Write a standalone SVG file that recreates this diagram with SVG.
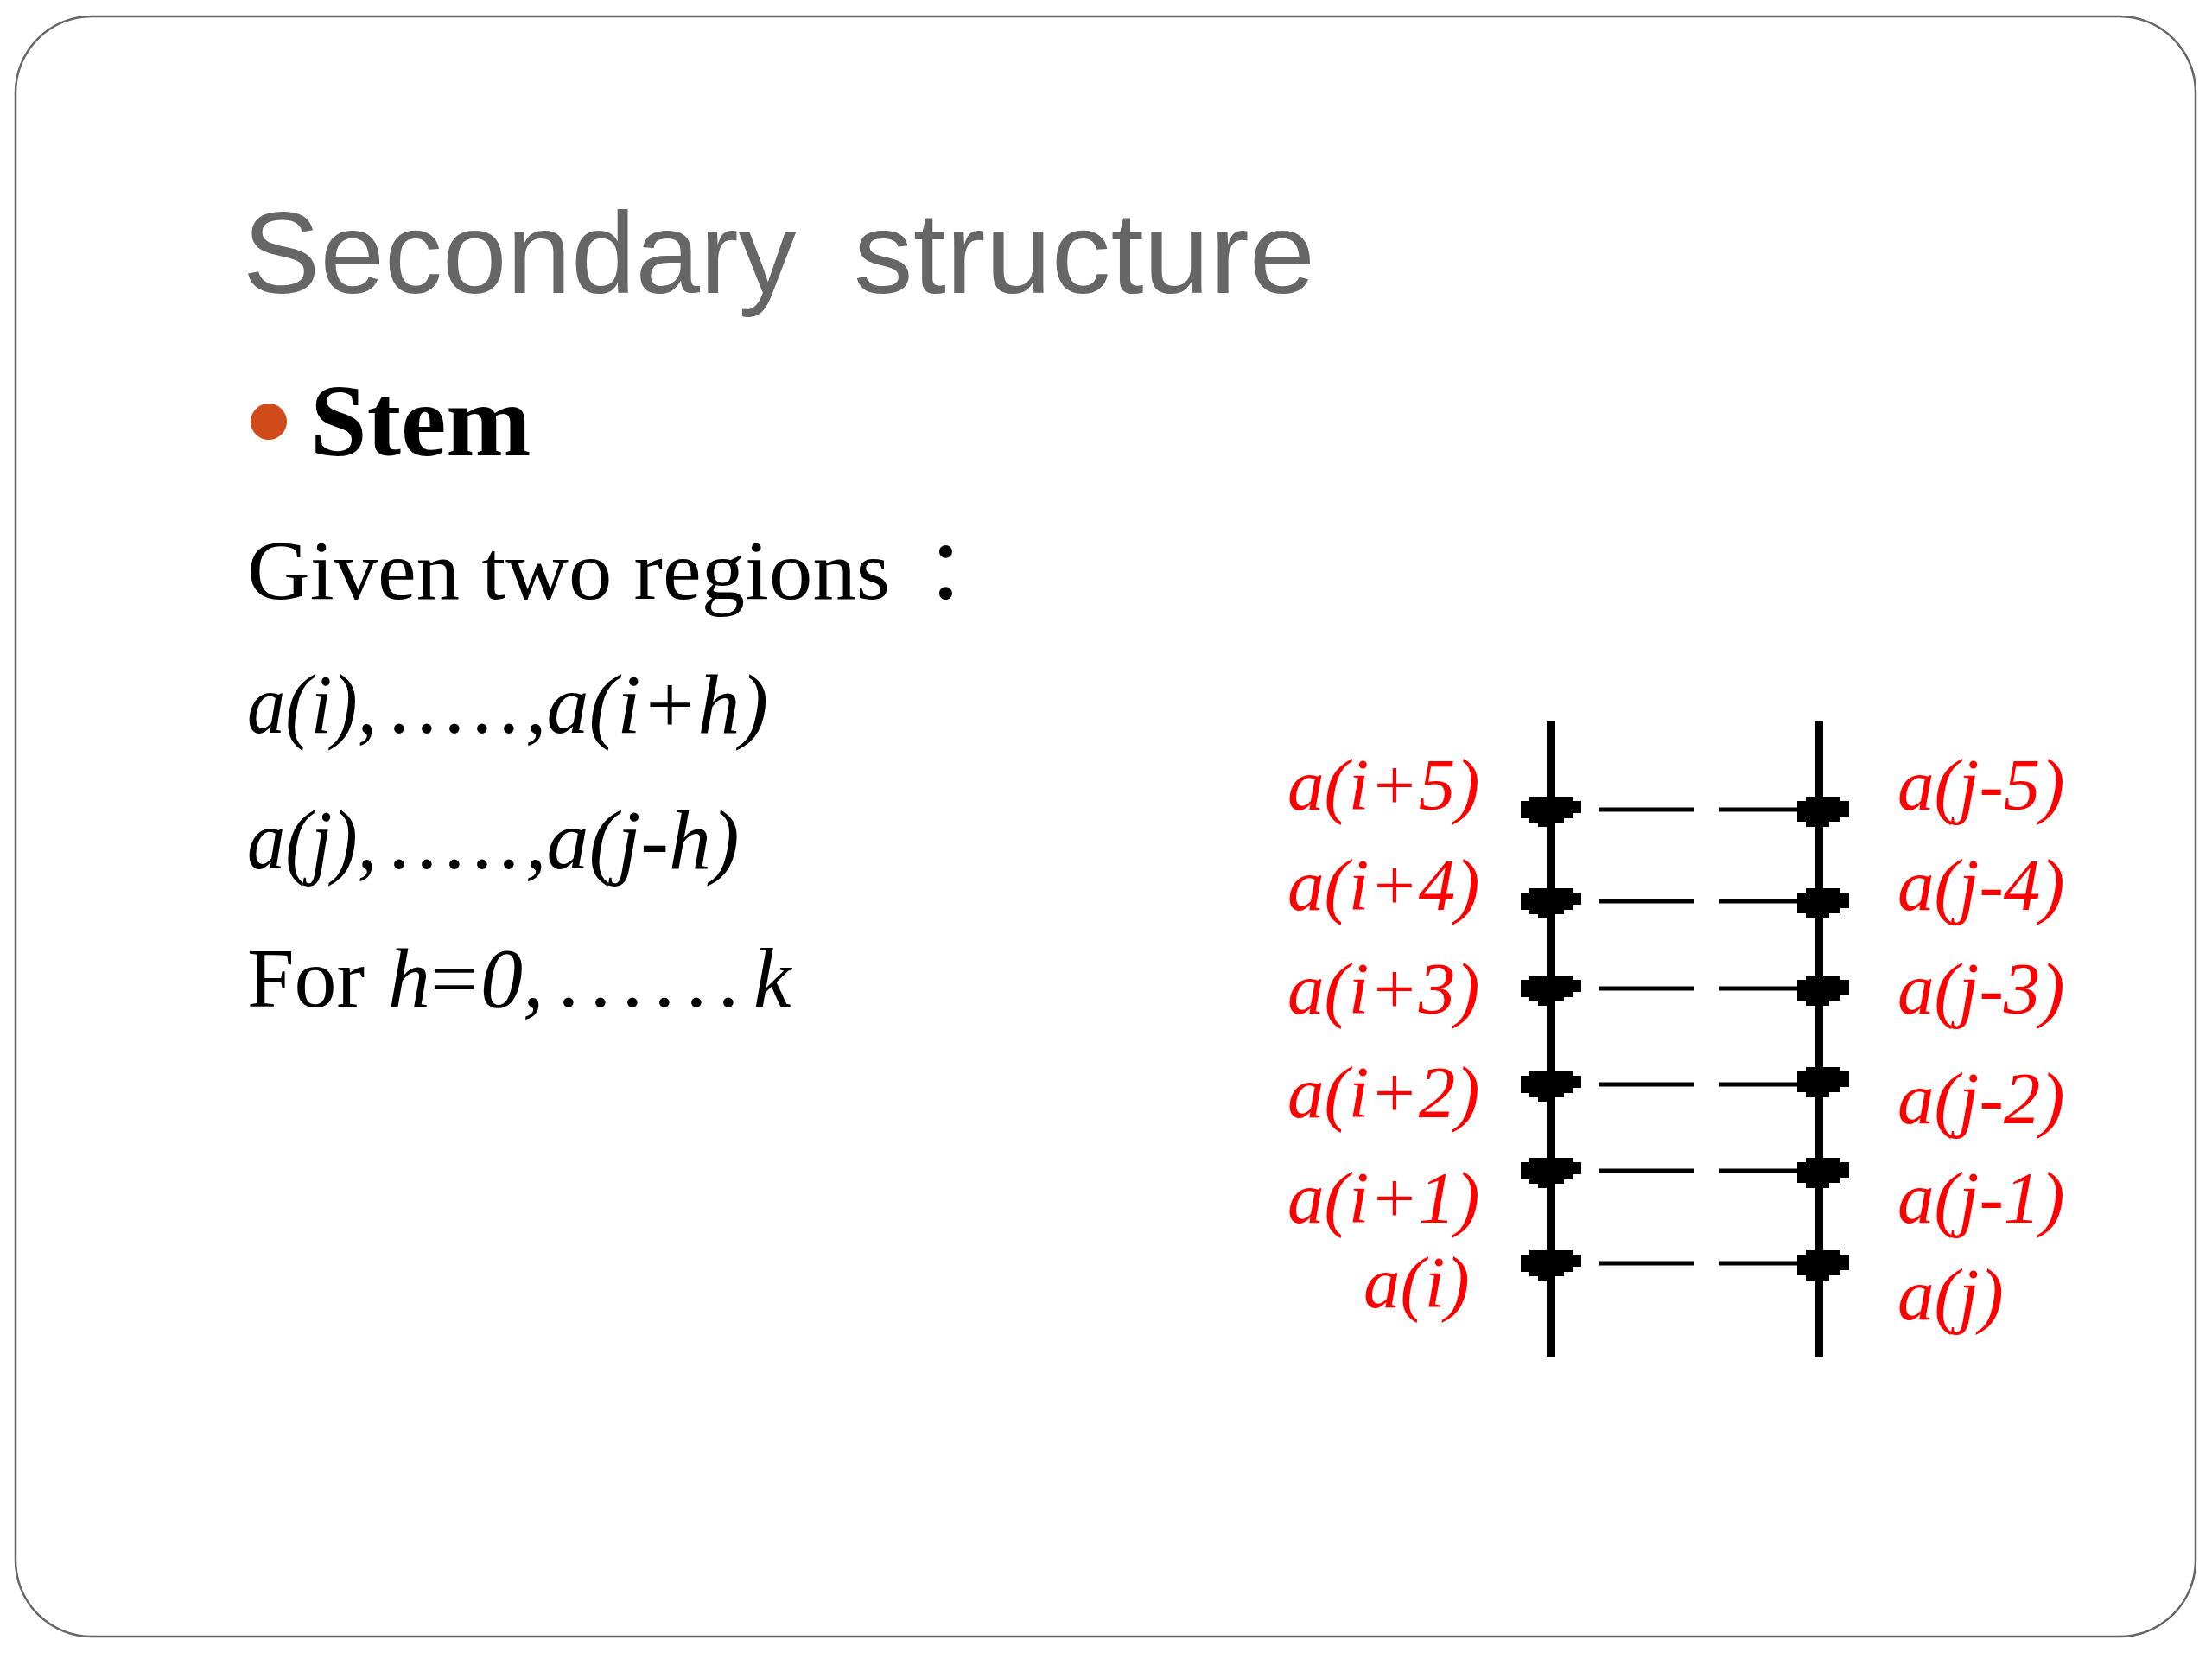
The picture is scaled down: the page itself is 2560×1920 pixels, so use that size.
<svg xmlns="http://www.w3.org/2000/svg" width="2560" height="1920" viewBox="0 0 2560 1920">
<style>
.title{font-family:"Liberation Sans",Arial,sans-serif;font-size:134px;fill:#666666}
.stem{font-family:"Liberation Serif","Times New Roman",serif;font-size:118px;font-weight:bold;fill:#000}
.body{font-family:"Liberation Serif","Times New Roman","Noto Sans CJK SC",serif;font-size:98px;fill:#000}
.it{font-style:italic}
.lbl{font-family:"Liberation Serif","Times New Roman",serif;font-style:italic;font-size:85px;fill:#ff0000}
.strand{stroke:#000;stroke-width:10;fill:none}
.pair{stroke:#000;stroke-width:5;fill:none}
</style>
<defs>
<path id="blobL" d="M -25,-15 H 25 V -10 H 35 V 4 H 25 V 10 H 15 V 15 H 5 V 20 H -15 V 15 H -25 V 10 H -35 V -10 H -25 Z" fill="#000"/>
<path id="blobR" d="M -15,-15 H 25 V -10 H 35 V 8 H 25 V 14 H 12 V 20 H -15 V 14 H -25 V -10 H -15 Z" fill="#000"/>
</defs>
<rect x="0" y="0" width="2560" height="1920" fill="#ffffff"/>
<rect id="frame" x="18" y="19" width="2523" height="1875" rx="88" ry="88" fill="#ffffff" stroke="#666666" stroke-width="2.5"/>

<g id="title">
<text class="title" y="339"><tspan x="281">Secondary</tspan><tspan x="988" textLength="534" lengthAdjust="spacingAndGlyphs">structure</tspan></text>
</g>
<g id="bullet">
<circle cx="311" cy="488" r="21" fill="#d04a1a"/>
<text class="stem" x="359" y="527">Stem</text>
</g>
<g id="text-lines">
<text class="body" y="693"><tspan x="286" textLength="744" lengthAdjust="spacingAndGlyphs">Given two regions</tspan><tspan x="1070">：</tspan></text>
<text class="body it" y="848"><tspan x="286" textLength="150" lengthAdjust="spacingAndGlyphs">a(i),</tspan><tspan x="452">.</tspan><tspan x="484">.</tspan><tspan x="516">.</tspan><tspan x="548">.</tspan><tspan x="579">.</tspan><tspan x="608">,a(i+h)</tspan></text>
<text class="body it" y="1005"><tspan x="286" textLength="150" lengthAdjust="spacingAndGlyphs">a(j),</tspan><tspan x="452">.</tspan><tspan x="484">.</tspan><tspan x="516">.</tspan><tspan x="548">.</tspan><tspan x="579">.</tspan><tspan x="608">,a(j-h)</tspan></text>
<text class="body" y="1165"><tspan x="286">For</tspan><tspan class="it" x="449">h</tspan><tspan x="498">=</tspan><tspan class="it" x="556">0,</tspan><tspan class="it" x="648">.</tspan><tspan class="it" x="685">.</tspan><tspan class="it" x="722">.</tspan><tspan class="it" x="759">.</tspan><tspan class="it" x="796">.</tspan><tspan class="it" x="833">.</tspan><tspan class="it" x="872">k</tspan></text>
</g>

<g id="connectors">
<line class="strand" x1="1795" y1="835" x2="1795" y2="1570"/>
<line class="strand" x1="2105" y1="835" x2="2105" y2="1570"/>
<line class="pair" x1="1850" y1="937" x2="1960" y2="937"/>
<line class="pair" x1="1990" y1="937" x2="2085" y2="937"/>
<line class="pair" x1="1850" y1="1043" x2="1960" y2="1043" stroke-width="7"/>
<line class="pair" x1="1990" y1="1043" x2="2085" y2="1043" stroke-width="7"/>
<line class="pair" x1="1850" y1="1144" x2="1960" y2="1144"/>
<line class="pair" x1="1990" y1="1144" x2="2085" y2="1144"/>
<line class="pair" x1="1850" y1="1255" x2="1960" y2="1255"/>
<line class="pair" x1="1990" y1="1255" x2="2085" y2="1255"/>
<line class="pair" x1="1850" y1="1355" x2="1960" y2="1355"/>
<line class="pair" x1="1990" y1="1355" x2="2085" y2="1355"/>
<line class="pair" x1="1850" y1="1462" x2="1960" y2="1462"/>
<line class="pair" x1="1990" y1="1462" x2="2085" y2="1462"/>
</g>

<g id="node-i5"><use href="#blobL" x="1795" y="937"/><text class="lbl" x="1490" y="937">a(i+5)</text></g>
<g id="node-i4"><use href="#blobL" x="1795" y="1043"/><text class="lbl" x="1490" y="1053">a(i+4)</text></g>
<g id="node-i3"><use href="#blobL" x="1795" y="1144"/><text class="lbl" x="1490" y="1173">a(i+3)</text></g>
<g id="node-i2"><use href="#blobL" x="1795" y="1255"/><text class="lbl" x="1490" y="1293">a(i+2)</text></g>
<g id="node-i1"><use href="#blobL" x="1795" y="1355"/><text class="lbl" x="1490" y="1415">a(i+1)</text></g>
<g id="node-i0"><use href="#blobL" x="1795" y="1462"/><text class="lbl" x="1578" y="1513">a(i)</text></g>

<g id="node-j5"><use href="#blobR" x="2105" y="937"/><text class="lbl" x="2196" y="937">a(j-5)</text></g>
<g id="node-j4"><use href="#blobR" x="2105" y="1043"/><text class="lbl" x="2196" y="1053">a(j-4)</text></g>
<g id="node-j3"><use href="#blobR" x="2105" y="1144"/><text class="lbl" x="2196" y="1173">a(j-3)</text></g>
<g id="node-j2"><use href="#blobR" x="2105" y="1250"/><text class="lbl" x="2196" y="1300">a(j-2)</text></g>
<g id="node-j1"><use href="#blobR" x="2105" y="1355"/><text class="lbl" x="2196" y="1415">a(j-1)</text></g>
<g id="node-j0"><use href="#blobR" x="2105" y="1462"/><text class="lbl" x="2196" y="1527">a(j)</text></g>
</svg>
